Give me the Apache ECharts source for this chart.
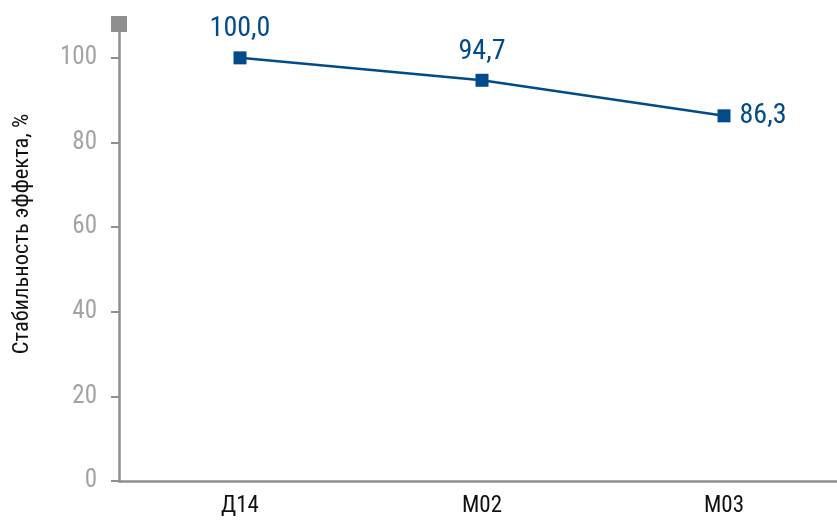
<!DOCTYPE html>
<html>
<head>
<meta charset="utf-8">
<style>
  html, body { margin: 0; padding: 0; background: #ffffff; }
  #chart { width: 837px; height: 520px; }
</style>
<script src="https://cdn.jsdelivr.net/npm/echarts@6/dist/echarts.min.js"></script>
</head>
<body>
<div id="chart"></div>
<script>
// Effect stability over time, percent
const categories = ['Д14', 'М02', 'М03'];
const stability = [100.0, 94.7, 86.3];
const yTicks = [0, 20, 40, 60, 80, 100];
const yTitle = 'Стабильность эффекта, %';

const FONT = '"Liberation Sans Narrow", "Roboto Condensed", "Arial Narrow", "Liberation Sans", sans-serif';
const LINE_BLUE = '#024b8b';
const AXIS_GRAY = '#8f8f8f';

const chart = echarts.init(document.getElementById('chart'));

const fmt = v => v.toFixed(1).replace('.', ',');

chart.setOption({
  animation: false,
  grid: { left: 119, top: 24, width: 726, bottom: 39, containLabel: false, outerBoundsMode: 'none' },
  xAxis: {
    type: 'category',
    data: categories,
    boundaryGap: true,
    axisLine: { lineStyle: { color: AXIS_GRAY, width: 2.5 } },
    axisTick: { show: false },
    axisLabel: { color: '#111', fontFamily: FONT, fontSize: 23, margin: 14 }
  },
  yAxis: {
    type: 'value',
    min: 0,
    max: 108,
    interval: 20,
    name: yTitle,
    nameLocation: 'middle',
    nameGap: 85,
    nameRotate: 90,
    nameTextStyle: { color: '#111', fontFamily: FONT, fontSize: 22.5, padding: [0, 0, 0, 37] },
    splitLine: { show: false },
    axisLine: {
      show: true,
      symbol: ['none', 'rect'],
      symbolSize: [16, 16],
      lineStyle: { color: AXIS_GRAY, width: 2.5 }
    },
    axisTick: {
      show: true,
      inside: false,
      length: 8,
      customValues: yTicks,
      lineStyle: { color: AXIS_GRAY, width: 2 }
    },
    axisLabel: {
      color: '#a3a3a3',
      fontFamily: FONT,
      fontSize: 25,
      margin: 22,
      customValues: yTicks,
      formatter: v => String(v)
    }
  },
  series: [{
    type: 'line',
    symbol: 'rect',
    symbolSize: 13,
    lineStyle: { color: LINE_BLUE, width: 2.5 },
    itemStyle: { color: LINE_BLUE },
    label: {
      show: true,
      position: 'top',
      distance: 8,
      color: LINE_BLUE,
      fontFamily: FONT,
      fontSize: 28,
      formatter: p => fmt(p.value)
    },
    data: stability.map((v, i) => i === stability.length - 1
      ? { value: v, label: { position: 'right', distance: 9 } }
      : v)
  }]
});
</script>
</body>
</html>
